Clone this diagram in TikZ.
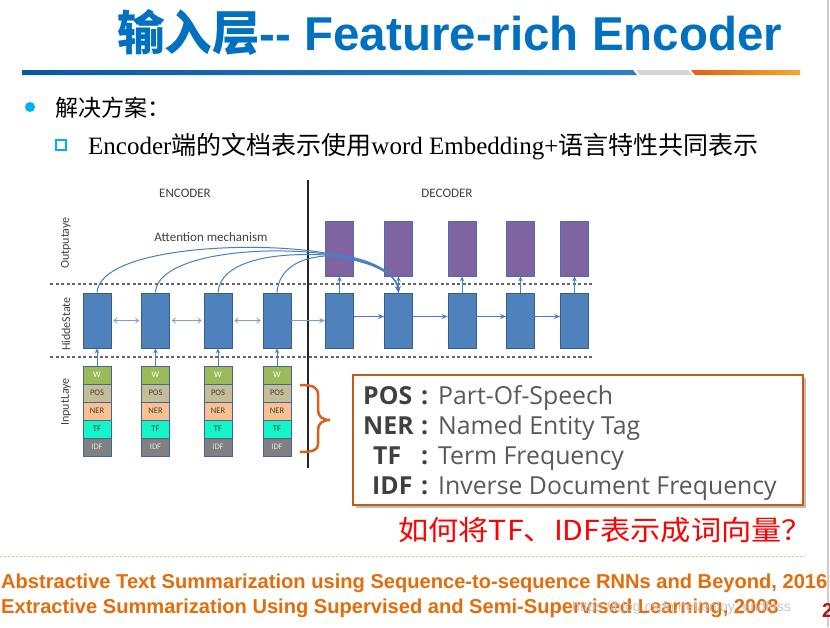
\documentclass[tikz,border=0pt]{standalone}
\usepackage{fontspec}
\setmainfont{Liberation Serif}
\newfontfamily\cjk{Noto Sans CJK SC}
\newfontfamily\arl{Liberation Sans}
\newfontfamily\carl{Carlito}
\newfontfamily\osans{Open Sans}
\usetikzlibrary{arrows.meta}
\definecolor{titleblue}{RGB}{0,112,192}
\definecolor{barblueA}{RGB}{10,88,165}
\definecolor{barblueB}{RGB}{40,130,200}
\definecolor{barorangeA}{RGB}{226,96,20}
\definecolor{barorangeB}{RGB}{245,168,40}
\definecolor{bullet}{RGB}{0,176,240}
\definecolor{hidfill}{RGB}{79,129,189}
\definecolor{hidborder}{RGB}{56,93,138}
\definecolor{outfill}{RGB}{128,100,162}
\definecolor{outborder}{RGB}{75,110,170}
\definecolor{arrowblue}{RGB}{74,126,196}
\definecolor{lightarrow}{RGB}{120,160,215}
\definecolor{wgreen}{RGB}{155,187,89}
\definecolor{postan}{RGB}{196,189,151}
\definecolor{nerpeach}{RGB}{250,192,144}
\definecolor{tfteal}{RGB}{20,245,200}
\definecolor{idfgray}{RGB}{128,128,128}
\definecolor{rowborder}{RGB}{70,100,150}
\definecolor{braceorange}{RGB}{214,98,30}
\definecolor{boxorange}{RGB}{197,90,17}
\definecolor{legdark}{RGB}{64,64,64}
\definecolor{leggray}{RGB}{89,89,89}
\definecolor{refor}{RGB}{228,108,10}
\definecolor{dotor}{RGB}{245,180,130}
\definecolor{labgray}{RGB}{64,64,64}
\tikzset{
  hid/.style={draw=hidborder, fill=hidfill, line width=0.8pt, minimum width=28pt, minimum height=55pt, inner sep=0},
  outbox/.style={draw=outborder, fill=outfill, line width=0.8pt, minimum width=28pt, minimum height=55pt, inner sep=0},
  inrow/.style={draw=rowborder, line width=0.6pt, minimum width=28pt, minimum height=18pt, inner sep=0, font=\carl\fontsize{8.5}{9}\selectfont},
  vconn/.style={draw=arrowblue, line width=1pt, -{Stealth[length=5pt,width=4.5pt]}},
  hconn/.style={draw=lightarrow, line width=0.8pt, {Straight Barb[length=3pt,width=5pt]}-{Straight Barb[length=3pt,width=5pt]}},
  dconn/.style={draw=arrowblue, line width=1pt, -{Stealth[length=6pt,width=5pt]}},
  att/.style={draw=arrowblue, line width=1pt, -{Stealth[length=6pt,width=5pt]}},
  sep/.style={draw=black!60, line width=1.2pt, dash pattern=on 3pt off 2.5pt},
  sidelab/.style={rotate=90, font=\carl\fontsize{12}{12}\selectfont, text=labgray, inner sep=0},
  hdr/.style={font=\carl\fontsize{13}{13}\selectfont, text=labgray, inner sep=0},
  legl/.style={anchor=base west, inner sep=0, font=\osans\bfseries\fontsize{24.8}{25}\selectfont, text=legdark},
  legd/.style={anchor=base west, inner sep=0, font=\osans\fontsize{24.8}{25}\selectfont, text=leggray}
}
\begin{document}
\begin{tikzpicture}[x=1pt,y=-1pt]
\useasboundingbox (0,0) rectangle (830,627);
\fill[white] (0,0) rectangle (830,627);
% right slide edge
\draw[black!20, line width=1.5pt] (828,0) -- (828,627);
% title
\node[anchor=base west, inner sep=0, text=titleblue] (title) at (117,50)
  {\fontsize{47.5}{50}\selectfont{\cjk\bfseries 输入层}{\arl\bfseries -{}- Feature-rich Encoder}};
% title bar
\shade[left color=barblueA, right color=barblueB] (22,70) -- (633,70) -- (637,75) -- (22,75) -- cycle;
\fill[black!17] (636,70) -- (688,70) -- (692,75) -- (640,75) -- cycle;
\shade[left color=barorangeA, right color=barorangeB] (691,70) -- (800,70) -- (800,75) -- (695,75) -- cycle;
% bullets
\fill[bullet] (30,107) circle (5);
\node[anchor=base west, inner sep=0] (b1) at (55,116) {\cjk\fontsize{23}{25}\selectfont 解决方案：};
\draw[bullet, line width=2pt] (56,140) rectangle (66,150);
\node[anchor=base west, inner sep=0] (b2) at (88,154.5)
  {\fontsize{25}{27}\selectfont Encoder{\cjk 端的文档表示使用}word Embedding+{\cjk 语言特性共同表示}};
% diagram headers
\node[hdr] (enc) at (185,193) {ENCODER};
\node[hdr] (dec) at (447,193) {DECODER};
\node[hdr] (attn) at (211,237) {Attention mechanism};
\node[sidelab] (lo) at (66,243) {Outputaye};
\node[sidelab] (lh) at (66,324) {HiddeState};
\node[sidelab] (li) at (66,402) {InputLaye};
% separators
\draw[sep] (50,284) -- (592,284);
\draw[sep] (50,357) -- (592,357);
\draw[black!85, line width=1.2pt] (308,180) -- (308,468);
% encoder
\foreach \i/\x in {1/97,2/155.5,3/218,4/277}{
  \node[hid] (e\i) at (\x,320.5) {};
  \node[inrow, fill=wgreen, text=white] (w\i) at (\x,375) {W};
  \node[inrow, fill=postan, text=legdark] (pos\i) at (\x,393) {POS};
  \node[inrow, fill=nerpeach, text=legdark] (ner\i) at (\x,411) {NER};
  \node[inrow, fill=tfteal, text=legdark] (tf\i) at (\x,429) {TF};
  \node[inrow, fill=idfgray, text=black!12] (idf\i) at (\x,447) {IDF};
  \draw[vconn] (w\i.north) -- (e\i.south);
}
% decoder
\foreach \i/\x in {1/339.5,2/398.5,3/462,4/520.5,5/574.5}{
  \node[hid] (d\i) at (\x,320.5) {};
  \node[outbox] (o\i) at (\x,248.5) {};
  \draw[vconn] (d\i.north) -- (o\i.south);
}
% horizontal connectors
\draw[hconn, shorten <=2pt, shorten >=2pt] (e1.east) -- (e2.west);
\draw[hconn, shorten <=2pt, shorten >=2pt] (e2.east) -- (e3.west);
\draw[hconn, shorten <=2pt, shorten >=2pt] (e3.east) -- (e4.west);
\draw[draw=lightarrow, line width=0.8pt, -{Stealth[length=6pt,width=5pt]}] (e4.east) -- (d1.west);
\draw[dconn] ([yshift=4pt]d1.east) -- ([yshift=4pt]d2.west);
\draw[dconn] ([yshift=4pt]d2.east) -- ([yshift=4pt]d3.west);
\draw[dconn] ([yshift=4pt]d3.east) -- ([yshift=4pt]d4.west);
\draw[dconn] ([yshift=4pt]d4.east) -- ([yshift=4pt]d5.west);
% attention curves
\draw[att] (e1.north) .. controls (100,248) and (250,240) .. (325,253) .. controls (370,257) and (396,272) .. (d2.north);
\draw[att] (e2.north) .. controls (157,255) and (260,245) .. (325,254) .. controls (371,258) and (396,273) .. (d2.north);
\draw[att] (e3.north) .. controls (220,262) and (270,252) .. (325,255) .. controls (372,259) and (397,274) .. (d2.north);
\draw[att] (e4.north) .. controls (279,268) and (300,258) .. (325,256) .. controls (373,260) and (397,275) .. (d2.north);
% brace
\draw[braceorange, line width=2.5pt] (300,385) .. controls (313,385) and (318,387) .. (318,395) -- (318,410) .. controls (318,416) and (322,420) .. (330,420) .. controls (322,420) and (318,424) .. (318,430) -- (318,444) .. controls (318,450) and (313,452) .. (300,452);
% legend box
\fill[black!25] (356,378) rectangle (806,508);
\draw[boxorange, fill=white, line width=2.5pt] (353,375) rectangle (803,505);
\node[legl] (lp) at (363,404) {POS};
\node[legl] (ln) at (363,434) {NER};
\node[legl] (lt) at (373,464) {TF};
\node[legl] (lidf) at (372,494) {IDF};
\foreach \y in {404,434,464,494}{
  \node[legl] at (421,\y) {:};
}
\node[legd] (dp) at (438,404) {Part-Of-Speech};
\node[legd] (dn) at (438,434) {Named Entity Tag};
\node[legd] (dt) at (438,464) {Term Frequency};
\node[legd] (di) at (438,494) {Inverse Document Frequency};
% question
\node[anchor=base west, inner sep=0, text=red] (q) at (398,540) {\scalebox{1.1}[1]{\cjk\fontsize{27.5}{29}\selectfont 如何将TF、IDF表示成词向量？}};
% dotted line
\draw[dotor, line width=1pt, dash pattern=on 2pt off 2pt] (0,556) -- (805,556);
% references
\node[anchor=base west, inner sep=0, text=refor] (r1) at (1,588) {\arl\bfseries\fontsize{20.1}{22}\selectfont Abstractive Text Summarization using Sequence-to-sequence RNNs and Beyond, 2016};
\node[anchor=base west, inner sep=0, text=refor] (r2) at (1,613) {\arl\bfseries\fontsize{20.1}{22}\selectfont Extractive Summarization Using Supervised and Semi-Supervised Learning, 2008};
\node[anchor=base west, inner sep=0, text=black!22] (wm) at (572,611) {\arl\fontsize{14}{16}\selectfont https://blog.csdn.net/enjoy\_endless};
\node[anchor=base west, inner sep=0, text={rgb,255:red,170;green,20;blue,20}] (pg) at (822,617) {\arl\bfseries\fontsize{20}{20}\selectfont 2};
\end{tikzpicture}
\end{document}
